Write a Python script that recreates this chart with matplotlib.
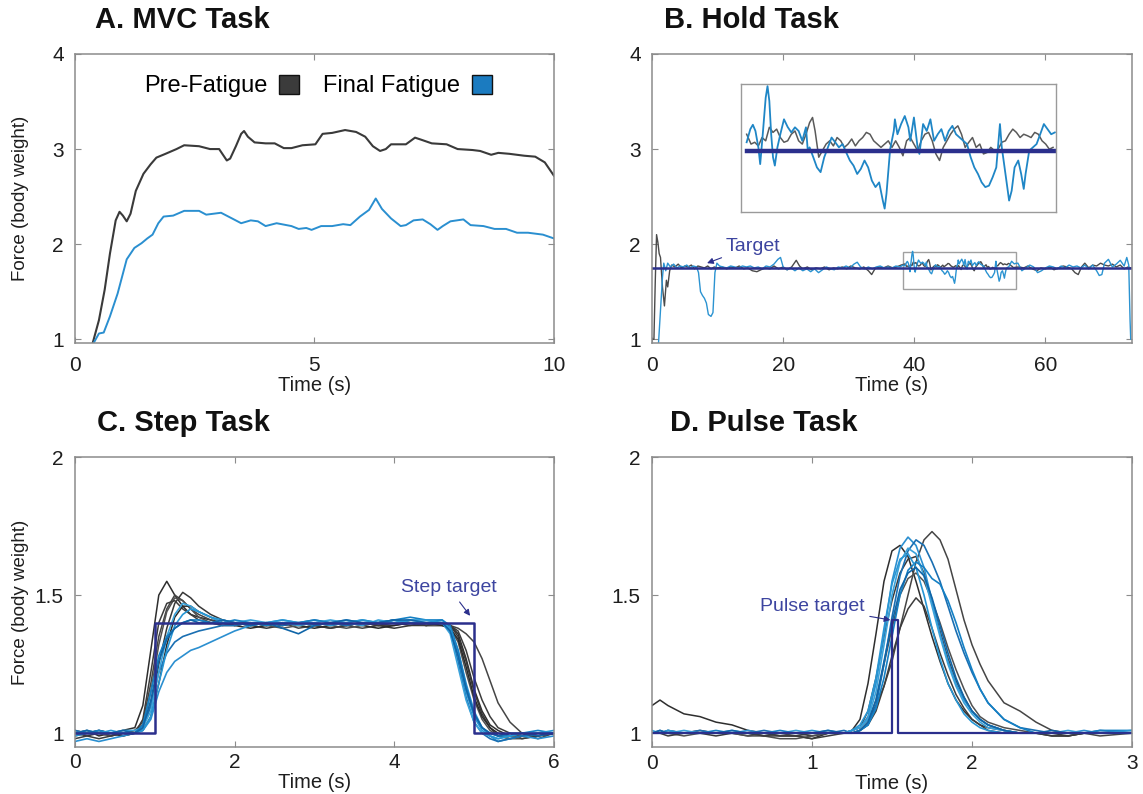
import matplotlib
matplotlib.use("Agg")
import matplotlib.pyplot as plt
from matplotlib.patches import Patch, Rectangle

plt.rcParams['font.family'] = ['Liberation Sans', 'DejaVu Sans']

# ---------------- Panel A: MVC task ----------------
mvc_pre_time = [0.37, 0.50, 0.62, 0.73, 0.85, 0.93, 1.00, 1.08, 1.16, 1.27, 1.43, 1.58, 1.70, 1.89, 2.12,
                2.28, 2.59, 2.82, 3.01, 3.09, 3.17, 3.24, 3.36, 3.47, 3.53, 3.61, 3.75, 3.98, 4.17, 4.36,
                4.52, 4.75, 5.02, 5.17, 5.37, 5.64, 5.87, 6.06, 6.22, 6.37, 6.49, 6.60, 6.91, 7.10, 7.22,
                7.45, 7.76, 7.99, 8.30, 8.46, 8.69, 8.84, 9.07, 9.38, 9.61, 9.81, 10.0]
mvc_pre_force = [0.96, 1.20, 1.52, 1.90, 2.25, 2.34, 2.30, 2.24, 2.32, 2.56, 2.74, 2.84, 2.91, 2.95, 3.00,
                 3.04, 3.03, 3.00, 3.00, 2.94, 2.88, 2.90, 3.03, 3.16, 3.19, 3.13, 3.07, 3.06, 3.06, 3.01,
                 3.01, 3.04, 3.05, 3.16, 3.17, 3.20, 3.18, 3.13, 3.03, 2.98, 3.00, 3.05, 3.05, 3.12, 3.10,
                 3.06, 3.05, 3.00, 2.99, 2.98, 2.94, 2.96, 2.95, 2.93, 2.92, 2.86, 2.72]
mvc_fat_time = [0.39, 0.50, 0.60, 0.73, 0.89, 1.08, 1.24, 1.39, 1.51, 1.62, 1.74, 1.85, 2.05, 2.28, 2.59,
                2.74, 3.05, 3.28, 3.47, 3.67, 3.82, 3.98, 4.21, 4.52, 4.67, 4.83, 4.94, 5.14, 5.37, 5.60,
                5.75, 5.95, 6.14, 6.28, 6.41, 6.60, 6.80, 6.91, 7.07, 7.26, 7.42, 7.57, 7.68, 7.84, 8.11,
                8.26, 8.53, 8.76, 9.00, 9.23, 9.46, 9.77, 10.0]
mvc_fat_force = [0.96, 1.06, 1.07, 1.24, 1.48, 1.84, 1.96, 2.01, 2.06, 2.10, 2.22, 2.29, 2.30, 2.35, 2.35,
                 2.31, 2.33, 2.27, 2.22, 2.25, 2.24, 2.19, 2.22, 2.19, 2.16, 2.17, 2.15, 2.19, 2.19, 2.21,
                 2.20, 2.29, 2.36, 2.48, 2.37, 2.27, 2.19, 2.20, 2.25, 2.26, 2.21, 2.15, 2.19, 2.24, 2.26,
                 2.20, 2.19, 2.16, 2.16, 2.12, 2.12, 2.10, 2.06]
mvc_labels = ['Pre-Fatigue', 'Final Fatigue']

# ---------------- Panel B: Hold task ----------------
hold_target_level = 1.745
hold_span = [0.0, 73.0]

hold_black_t_pre = [0.0, 0.3, 0.5, 0.7, 0.9, 1.1, 1.3, 1.6, 1.9, 2.2, 2.4, 2.7, 3.0, 3.5, 4.0, 4.5, 5.0, 5.5,
                    6.0, 6.5, 7.0, 7.5, 8.0, 8.5, 9.0, 9.5, 10.0, 10.7, 11.4, 12.0, 12.7, 13.3, 14.0, 14.6,
                    15.3, 16.0, 16.6, 17.3, 18.0, 18.6, 19.3, 20.0, 20.6, 21.3, 22.0, 22.5, 23.0, 23.7, 24.3,
                    25.0, 25.7, 26.3, 27.0, 27.7, 28.3, 29.0, 29.7, 30.3, 31.0, 31.7, 32.3, 33.0, 33.5, 34.0,
                    34.7, 35.3, 36.0, 36.7, 37.3, 38.0]
hold_black_f_pre = [1.00, 1.00, 1.60, 2.10, 2.02, 1.90, 1.86, 1.55, 1.35, 1.62, 1.55, 1.72, 1.78, 1.76, 1.79,
                    1.75, 1.77, 1.76, 1.78, 1.74, 1.77, 1.76, 1.75, 1.77, 1.74, 1.76, 1.75, 1.76, 1.74, 1.76,
                    1.75, 1.77, 1.74, 1.75, 1.72, 1.71, 1.73, 1.75, 1.74, 1.77, 1.74, 1.76, 1.73, 1.76, 1.83,
                    1.77, 1.74, 1.76, 1.73, 1.75, 1.74, 1.76, 1.73, 1.75, 1.74, 1.76, 1.74, 1.77, 1.75, 1.74,
                    1.76, 1.72, 1.68, 1.74, 1.76, 1.75, 1.77, 1.75, 1.76, 1.78]
hold_black_t_post = [56.0, 56.7, 57.3, 58.0, 58.7, 59.3, 60.0, 60.7, 61.3, 62.0, 62.7, 63.3, 64.0, 64.5, 65.0,
                     65.5, 66.0, 66.6, 67.2, 67.8, 68.4, 69.0, 69.6, 70.2, 70.8, 71.4, 72.0, 72.6, 73.0]
hold_black_f_post = [1.76, 1.75, 1.77, 1.74, 1.72, 1.75, 1.74, 1.76, 1.73, 1.75, 1.77, 1.76, 1.74, 1.70, 1.68,
                     1.76, 1.80, 1.75, 1.78, 1.77, 1.80, 1.78, 1.77, 1.79, 1.76, 1.78, 1.74, 1.76, 1.75]

hold_blue_t_pre = [1.0, 1.3, 1.6, 1.8, 2.1, 2.4, 2.8, 3.3, 3.8, 4.3, 4.8, 5.3, 5.8, 6.3, 6.8, 7.1, 7.4, 7.7,
                   8.0, 8.3, 8.6, 9.0, 9.3, 9.6, 9.9, 10.3, 10.8, 11.4, 12.0, 12.6, 13.2, 13.8, 14.4, 15.0,
                   15.6, 16.2, 16.8, 17.4, 18.0, 18.6, 19.2, 19.6, 20.0, 20.6, 21.2, 21.8, 22.4, 23.0, 23.6,
                   24.2, 24.8, 25.4, 26.0, 26.6, 27.2, 27.8, 28.4, 29.0, 29.6, 30.2, 30.8, 31.3, 31.8, 32.4,
                   33.0, 33.6, 34.2, 34.8, 35.4, 36.0, 36.6, 37.2, 37.8, 38.3]
hold_blue_f_pre = [0.96, 1.30, 1.65, 1.80, 1.72, 1.80, 1.76, 1.79, 1.75, 1.77, 1.76, 1.78, 1.75, 1.77, 1.76,
                   1.70, 1.50, 1.46, 1.43, 1.38, 1.26, 1.24, 1.28, 1.70, 1.80, 1.77, 1.76, 1.75, 1.77, 1.76,
                   1.75, 1.77, 1.76, 1.77, 1.75, 1.76, 1.74, 1.77, 1.76, 1.79, 1.84, 1.86, 1.76, 1.73, 1.75,
                   1.72, 1.75, 1.72, 1.74, 1.71, 1.74, 1.70, 1.73, 1.76, 1.74, 1.73, 1.76, 1.75, 1.77, 1.75,
                   1.79, 1.81, 1.76, 1.74, 1.76, 1.74, 1.76, 1.77, 1.75, 1.76, 1.75, 1.77, 1.76, 1.78]
hold_blue_t_post = [55.8, 56.4, 57.0, 57.6, 58.2, 58.8, 59.4, 60.0, 60.6, 61.2, 61.8, 62.4, 63.0, 63.6, 64.2,
                    64.8, 65.4, 66.0, 66.6, 67.2, 67.8, 68.2, 68.6, 69.0, 69.6, 70.2, 70.8, 71.4, 72.0, 72.4,
                    72.7, 72.9, 73.0]
hold_blue_f_post = [1.80, 1.72, 1.75, 1.78, 1.76, 1.70, 1.72, 1.75, 1.77, 1.76, 1.74, 1.77, 1.75, 1.78, 1.76,
                    1.77, 1.75, 1.78, 1.74, 1.78, 1.72, 1.67, 1.68, 1.80, 1.84, 1.76, 1.79, 1.83, 1.77, 1.86,
                    1.78, 1.20, 1.00]

# zoomed window (shown in the inset)
inset_blue_t = [38.60, 38.80, 38.94, 39.08, 39.24, 39.34, 39.48, 39.64, 39.74, 39.84, 39.94, 40.04, 40.14,
                40.28, 40.44, 40.64, 40.84, 41.04, 41.24, 41.44, 41.64, 41.84, 41.94, 42.04, 42.24, 42.44,
                42.64, 42.84, 43.04, 43.24, 43.44, 43.64, 43.84, 44.04, 44.24, 44.44, 44.64, 44.84, 45.04,
                45.24, 45.44, 45.64, 45.84, 46.04, 46.14, 46.24, 46.44, 46.64, 46.70, 46.84, 47.04, 47.24,
                47.44, 47.54, 47.74, 47.94, 48.04, 48.24, 48.44, 48.64, 48.84, 49.04, 49.24, 49.44, 49.64,
                49.84, 50.04, 50.24, 50.44, 50.64, 50.84, 51.04, 51.24, 51.44, 51.64, 51.84, 52.04, 52.24,
                52.44, 52.54, 52.64, 52.84, 52.94, 53.08, 53.24, 53.44, 53.60, 53.74, 53.84, 54.04, 54.24,
                54.44, 54.64, 54.84, 55.04, 55.24, 55.44]
inset_blue_f = [1.770, 1.806, 1.818, 1.801, 1.756, 1.710, 1.792, 1.892, 1.924, 1.883, 1.792, 1.729, 1.706,
                1.756, 1.792, 1.833, 1.812, 1.797, 1.811, 1.801, 1.774, 1.811, 1.747, 1.756, 1.729, 1.701,
                1.688, 1.729, 1.756, 1.783, 1.770, 1.756, 1.765, 1.742, 1.720, 1.706, 1.683, 1.697, 1.720,
                1.701, 1.665, 1.647, 1.660, 1.610, 1.588, 1.629, 1.751, 1.801, 1.833, 1.792, 1.820, 1.842,
                1.811, 1.774, 1.838, 1.756, 1.738, 1.820, 1.801, 1.833, 1.774, 1.792, 1.806, 1.774, 1.801,
                1.815, 1.792, 1.783, 1.774, 1.765, 1.729, 1.701, 1.683, 1.660, 1.647, 1.651, 1.674, 1.701,
                1.820, 1.756, 1.720, 1.647, 1.610, 1.637, 1.701, 1.720, 1.683, 1.642, 1.683, 1.747, 1.756,
                1.765, 1.792, 1.820, 1.806, 1.792, 1.797]
inset_black_t = [38.60, 38.84, 39.04, 39.24, 39.44, 39.64, 39.84, 40.04, 40.24, 40.44, 40.64, 40.84, 41.04,
                 41.24, 41.44, 41.64, 41.84, 42.04, 42.20, 42.34, 42.54, 42.74, 42.94, 43.14, 43.34, 43.54,
                 43.74, 43.94, 44.14, 44.34, 44.54, 44.74, 44.94, 45.14, 45.34, 45.54, 45.74, 45.94, 46.14,
                 46.34, 46.54, 46.74, 46.94, 47.14, 47.34, 47.54, 47.74, 47.94, 48.14, 48.34, 48.54, 48.74,
                 48.94, 49.14, 49.34, 49.54, 49.74, 49.94, 50.14, 50.34, 50.54, 50.74, 50.94, 51.14, 51.34,
                 51.54, 51.74, 51.94, 52.14, 52.34, 52.54, 52.74, 52.94, 53.14, 53.34, 53.54, 53.74, 53.94,
                 54.14, 54.34, 54.54, 54.74, 54.94, 55.14, 55.34]
inset_black_f = [1.792, 1.765, 1.770, 1.760, 1.783, 1.774, 1.811, 1.797, 1.806, 1.783, 1.770, 1.774, 1.792,
                 1.801, 1.774, 1.765, 1.792, 1.824, 1.838, 1.801, 1.729, 1.747, 1.765, 1.774, 1.760, 1.783,
                 1.774, 1.756, 1.765, 1.779, 1.760, 1.774, 1.783, 1.797, 1.792, 1.774, 1.765, 1.756, 1.765,
                 1.774, 1.756, 1.774, 1.756, 1.733, 1.774, 1.783, 1.765, 1.747, 1.774, 1.792, 1.797, 1.774,
                 1.738, 1.720, 1.756, 1.774, 1.792, 1.806, 1.815, 1.792, 1.756, 1.770, 1.783, 1.756, 1.765,
                 1.738, 1.742, 1.756, 1.747, 1.751, 1.770, 1.774, 1.792, 1.806, 1.797, 1.783, 1.792, 1.788,
                 1.783, 1.797, 1.792, 1.774, 1.765, 1.751, 1.756]
inset_window_t = [38.3, 55.5]
inset_window_f = [1.53, 1.92]
inset_view_f = [1.58, 1.93]
inset_place_t = [13.6, 61.6]
inset_place_f = [2.343, 3.685]

# ---------------- Panel C: Step task ----------------
step_target_t = [0.0, 1.0, 1.0, 5.0, 5.0, 6.0]
step_target_f = [1.0, 1.0, 1.4, 1.4, 1.0, 1.0]
step_time = [0.0, 0.15, 0.3, 0.45, 0.6, 0.75, 0.85, 0.95, 1.05, 1.15, 1.25, 1.35, 1.45, 1.55, 1.7, 1.85,
             2.0, 2.2, 2.4, 2.6, 2.8, 3.0, 3.2, 3.4, 3.6, 3.8, 4.0, 4.2, 4.4, 4.6, 4.7, 4.8, 4.9, 5.0, 5.1,
             5.2, 5.3, 5.45, 5.6, 5.8, 6.0]
step_pre = [
    [1.00, 1.01, 0.99, 1.00, 1.01, 1.02, 1.10, 1.30, 1.50, 1.55, 1.50, 1.46, 1.43, 1.42, 1.41, 1.40, 1.40,
     1.39, 1.40, 1.39, 1.40, 1.39, 1.40, 1.39, 1.40, 1.39, 1.40, 1.39, 1.40, 1.40, 1.39, 1.36, 1.27, 1.16,
     1.08, 1.03, 1.01, 0.99, 0.99, 1.00, 1.00],
    [0.99, 1.00, 1.00, 0.99, 1.00, 1.01, 1.04, 1.18, 1.35, 1.45, 1.50, 1.48, 1.45, 1.43, 1.41, 1.40, 1.39,
     1.40, 1.39, 1.40, 1.38, 1.39, 1.40, 1.39, 1.38, 1.39, 1.39, 1.40, 1.39, 1.39, 1.39, 1.38, 1.36, 1.33,
     1.27, 1.19, 1.11, 1.04, 1.00, 0.98, 1.00],
    [1.00, 0.99, 1.00, 1.00, 0.99, 1.00, 1.02, 1.10, 1.25, 1.38, 1.47, 1.51, 1.49, 1.46, 1.43, 1.41, 1.40,
     1.39, 1.38, 1.39, 1.40, 1.39, 1.38, 1.39, 1.40, 1.39, 1.38, 1.39, 1.39, 1.40, 1.39, 1.35, 1.26, 1.15,
     1.07, 1.02, 0.99, 0.98, 0.99, 1.00, 1.00],
    [1.01, 1.00, 1.00, 0.99, 1.00, 1.01, 1.03, 1.15, 1.32, 1.44, 1.49, 1.48, 1.45, 1.42, 1.40, 1.39, 1.40,
     1.40, 1.39, 1.38, 1.39, 1.40, 1.39, 1.38, 1.39, 1.40, 1.41, 1.40, 1.39, 1.39, 1.38, 1.33, 1.22, 1.12,
     1.05, 1.01, 0.99, 0.98, 0.98, 0.99, 1.00],
    [0.98, 0.99, 0.98, 0.99, 1.00, 1.00, 1.05, 1.22, 1.40, 1.47, 1.48, 1.45, 1.43, 1.41, 1.40, 1.39, 1.39,
     1.40, 1.39, 1.40, 1.40, 1.39, 1.38, 1.39, 1.40, 1.39, 1.40, 1.40, 1.39, 1.40, 1.39, 1.37, 1.30, 1.20,
     1.12, 1.06, 1.02, 1.00, 0.98, 0.99, 1.00],
    [1.00, 1.00, 1.01, 1.00, 0.99, 1.00, 1.01, 1.06, 1.18, 1.32, 1.42, 1.46, 1.46, 1.44, 1.42, 1.40, 1.39,
     1.38, 1.39, 1.40, 1.39, 1.38, 1.39, 1.40, 1.39, 1.38, 1.39, 1.40, 1.40, 1.39, 1.38, 1.34, 1.24, 1.13,
     1.06, 1.02, 1.00, 0.99, 1.00, 0.99, 1.00],
]
step_fat = [
    [0.97, 0.98, 0.97, 0.98, 0.99, 1.00, 1.01, 1.05, 1.15, 1.22, 1.26, 1.28, 1.30, 1.31, 1.33, 1.35, 1.37,
     1.39, 1.40, 1.41, 1.40, 1.39, 1.40, 1.41, 1.40, 1.40, 1.41, 1.40, 1.40, 1.41, 1.38, 1.30, 1.18, 1.08,
     1.02, 0.99, 0.97, 0.98, 0.99, 0.98, 0.99],
    [1.01, 1.00, 1.01, 1.00, 1.00, 1.00, 1.02, 1.10, 1.22, 1.29, 1.33, 1.35, 1.36, 1.37, 1.38, 1.39, 1.39,
     1.40, 1.40, 1.39, 1.40, 1.41, 1.40, 1.39, 1.40, 1.40, 1.41, 1.40, 1.40, 1.40, 1.37, 1.26, 1.13, 1.04,
     1.00, 0.98, 0.97, 0.98, 0.99, 1.00, 1.00],
    [1.00, 1.01, 1.00, 1.00, 1.01, 1.01, 1.02, 1.08, 1.22, 1.35, 1.43, 1.47, 1.46, 1.44, 1.42, 1.40, 1.40,
     1.41, 1.40, 1.40, 1.39, 1.40, 1.41, 1.40, 1.39, 1.41, 1.40, 1.41, 1.40, 1.40, 1.36, 1.24, 1.12, 1.04,
     1.00, 0.99, 0.98, 0.99, 1.00, 1.00, 1.00],
    [1.00, 1.00, 1.01, 1.00, 1.00, 1.00, 1.03, 1.15, 1.28, 1.35, 1.38, 1.40, 1.41, 1.41, 1.40, 1.40, 1.41,
     1.40, 1.39, 1.40, 1.40, 1.41, 1.40, 1.40, 1.41, 1.40, 1.41, 1.42, 1.41, 1.41, 1.39, 1.30, 1.17, 1.07,
     1.02, 1.00, 0.99, 0.99, 1.00, 1.01, 1.00],
    [0.99, 1.00, 1.00, 1.01, 1.00, 1.00, 1.01, 1.06, 1.18, 1.30, 1.39, 1.43, 1.45, 1.44, 1.42, 1.41, 1.40,
     1.39, 1.40, 1.41, 1.40, 1.40, 1.39, 1.40, 1.41, 1.40, 1.40, 1.41, 1.41, 1.40, 1.38, 1.28, 1.15, 1.06,
     1.01, 0.99, 0.98, 0.99, 1.00, 1.00, 1.01],
    [1.00, 1.01, 1.00, 1.00, 1.01, 1.00, 1.02, 1.12, 1.26, 1.34, 1.38, 1.40, 1.41, 1.40, 1.40, 1.41, 1.40,
     1.39, 1.40, 1.38, 1.36, 1.39, 1.40, 1.41, 1.40, 1.40, 1.41, 1.41, 1.40, 1.40, 1.37, 1.28, 1.16, 1.07,
     1.02, 1.00, 0.99, 1.00, 1.00, 0.99, 1.00],
]

# ---------------- Panel D: Pulse task ----------------
pulse_target_t = [0.0, 1.50, 1.50, 1.54, 1.54, 3.0]
pulse_target_f = [1.0, 1.0, 1.41, 1.41, 1.0, 1.0]
pulse_time = [0.0, 0.05, 0.1, 0.2, 0.3, 0.4, 0.5, 0.6, 0.7, 0.8, 0.9, 1.0, 1.1, 1.2, 1.25, 1.3, 1.35, 1.4,
              1.45, 1.5, 1.55, 1.6, 1.65, 1.7, 1.75, 1.8, 1.85, 1.9, 1.95, 2.0, 2.05, 2.1, 2.2, 2.3, 2.4,
              2.5, 2.6, 2.7, 2.8, 3.0]
pulse_pre = [
    [1.10, 1.12, 1.10, 1.07, 1.06, 1.04, 1.03, 1.01, 1.00, 0.99, 0.99, 0.98, 1.00, 1.00, 1.01, 1.05, 1.18,
     1.36, 1.55, 1.66, 1.68, 1.64, 1.55, 1.45, 1.35, 1.26, 1.18, 1.12, 1.08, 1.05, 1.03, 1.02, 1.01, 1.00,
     1.00, 0.99, 0.99, 1.00, 1.00, 1.00],
    [1.00, 1.00, 1.00, 1.00, 1.01, 1.00, 1.00, 0.99, 1.00, 1.00, 0.99, 1.00, 1.00, 1.00, 1.01, 1.02, 1.05,
     1.10, 1.17, 1.26, 1.38, 1.50, 1.62, 1.70, 1.73, 1.70, 1.63, 1.52, 1.41, 1.32, 1.25, 1.19, 1.11, 1.08,
     1.04, 1.01, 1.00, 1.00, 0.99, 1.00],
    [1.00, 1.00, 1.01, 1.00, 1.00, 0.99, 1.00, 1.00, 0.99, 1.00, 1.00, 0.99, 1.00, 1.00, 1.01, 1.02, 1.08,
     1.20, 1.35, 1.48, 1.58, 1.63, 1.64, 1.58, 1.48, 1.37, 1.27, 1.19, 1.13, 1.08, 1.05, 1.03, 1.01, 1.00,
     1.00, 1.00, 0.99, 1.00, 1.00, 1.00],
    [1.00, 1.00, 1.00, 0.99, 1.00, 1.00, 1.00, 0.99, 0.99, 0.98, 0.98, 0.99, 1.00, 1.00, 1.00, 1.01, 1.04,
     1.12, 1.25, 1.38, 1.50, 1.56, 1.58, 1.55, 1.48, 1.40, 1.31, 1.23, 1.16, 1.10, 1.06, 1.04, 1.02, 1.01,
     1.00, 1.00, 1.00, 1.00, 1.00, 1.00],
    [1.00, 1.00, 0.99, 1.00, 1.00, 1.00, 1.00, 1.00, 0.99, 0.99, 0.99, 0.98, 0.99, 1.00, 1.00, 1.01, 1.03,
     1.08, 1.17, 1.28, 1.38, 1.45, 1.49, 1.46, 1.38, 1.29, 1.21, 1.14, 1.09, 1.05, 1.03, 1.01, 1.00, 1.00,
     1.00, 0.99, 0.99, 1.00, 1.00, 1.00],
]
pulse_fat = [
    [1.00, 1.00, 1.01, 1.00, 1.00, 1.00, 1.00, 1.01, 1.00, 1.00, 1.00, 1.00, 1.01, 1.00, 1.01, 1.02, 1.06,
     1.18, 1.36, 1.55, 1.67, 1.71, 1.68, 1.60, 1.48, 1.36, 1.26, 1.18, 1.12, 1.08, 1.05, 1.03, 1.01, 1.00,
     1.00, 1.00, 1.00, 1.01, 1.00, 1.00],
    [1.00, 1.01, 1.00, 1.00, 1.01, 1.00, 1.00, 1.00, 1.01, 1.00, 1.00, 1.00, 1.00, 1.01, 1.00, 1.01, 1.03,
     1.10, 1.25, 1.42, 1.57, 1.66, 1.70, 1.68, 1.62, 1.55, 1.46, 1.37, 1.29, 1.22, 1.16, 1.11, 1.05, 1.02,
     1.01, 1.00, 1.00, 1.00, 1.01, 1.00],
    [1.01, 1.00, 1.00, 1.01, 1.00, 1.00, 1.01, 1.00, 1.00, 1.00, 1.01, 1.00, 1.00, 1.00, 1.01, 1.02, 1.05,
     1.15, 1.32, 1.50, 1.62, 1.67, 1.65, 1.57, 1.46, 1.35, 1.25, 1.17, 1.11, 1.07, 1.04, 1.02, 1.01, 1.00,
     1.00, 1.00, 1.01, 1.00, 1.00, 1.00],
    [1.00, 1.00, 1.00, 1.00, 1.00, 1.01, 1.00, 1.00, 1.00, 1.01, 1.00, 1.00, 1.00, 1.00, 1.00, 1.01, 1.03,
     1.09, 1.20, 1.35, 1.50, 1.59, 1.62, 1.60, 1.56, 1.54, 1.48, 1.40, 1.31, 1.23, 1.16, 1.11, 1.05, 1.02,
     1.00, 1.00, 1.00, 1.00, 1.01, 1.01],
    [1.00, 1.00, 1.01, 1.00, 1.00, 1.00, 1.00, 1.00, 1.00, 1.00, 1.00, 1.01, 1.00, 1.00, 1.01, 1.03, 1.08,
     1.20, 1.38, 1.54, 1.63, 1.65, 1.60, 1.50, 1.38, 1.27, 1.18, 1.12, 1.07, 1.04, 1.02, 1.01, 1.00, 1.00,
     1.00, 1.00, 1.00, 1.00, 1.00, 1.01],
    [1.00, 1.01, 1.00, 1.00, 1.00, 1.00, 1.01, 1.00, 1.00, 1.00, 1.00, 1.00, 1.01, 1.00, 1.00, 1.01, 1.04,
     1.12, 1.26, 1.40, 1.52, 1.58, 1.60, 1.57, 1.49, 1.39, 1.29, 1.20, 1.13, 1.08, 1.05, 1.03, 1.01, 1.00,
     1.00, 1.01, 1.00, 1.00, 1.00, 1.00],
]

panel_titles = ['A. MVC Task', 'B. Hold Task', 'C. Step Task', 'D. Pulse Task']
ylabel_text = 'Force (body weight)'
xlabel_text = 'Time (s)'
mvc_xticks = [0, 5, 10]
hold_xticks = [0, 20, 40, 60]
big_yticks = [1, 2, 3, 4]
step_xticks = [0, 2, 4, 6]
pulse_xticks = [0, 1, 2, 3]
small_yticks = [1, 1.5, 2]
small_yticklabels = ['1', '1.5', '2']

# ---------------- styling ----------------
DARK = '#3a3a3a'
BLUE = '#2a8fd0'
NAVY = '#2b2f8c'
NAVY_TXT = '#3d45a0'
FRAME = '#8c8c8c'
pre_colors = ['#2e2e2e', '#454545', '#383838', '#505050', '#3c3c3c', '#2a2a2a']
fat_colors = ['#2b8fd0', '#1a6fb2', '#3aa2da', '#1580c4', '#2796d4', '#0f65a8']

fig = plt.figure(figsize=(11.43, 7.94), dpi=100)
axA = fig.add_axes([0.0656, 0.568, 0.419, 0.364])
axB = fig.add_axes([0.5704, 0.568, 0.420, 0.364])
axC = fig.add_axes([0.0656, 0.0592, 0.419, 0.3652])
axD = fig.add_axes([0.5704, 0.0592, 0.420, 0.3652])


def style(ax, xpad):
    for s in ax.spines.values():
        s.set_color(FRAME)
        s.set_linewidth(1.1)
    ax.tick_params(direction='in', length=4, width=0.8, colors=FRAME, labelcolor='#1e1e1e',
                   labelsize=15, top=True, right=True)
    ax.tick_params(axis='y', pad=8)
    ax.tick_params(axis='x', pad=xpad)
    ax.set_xlabel(xlabel_text, fontsize=14.5, color='#1e1e1e', labelpad=1)


# Panel A
axA.plot(mvc_pre_time, mvc_pre_force, color=DARK, lw=1.5)
axA.plot(mvc_fat_time, mvc_fat_force, color=BLUE, lw=1.4)
axA.set_xlim(0, 10)
axA.set_ylim(0.96, 4)
axA.set_xticks(mvc_xticks)
axA.set_yticks(big_yticks)
style(axA, 9)
axA.set_ylabel(ylabel_text, fontsize=13.5, color='#1e1e1e')
axA.yaxis.set_label_coords(-0.095, 0.5)
handles = [Patch(facecolor='#3b3b3b', edgecolor='#111111', lw=1.0),
           Patch(facecolor='#1b7bc0', edgecolor='#111111', lw=1.0)]
axA.legend(handles, mvc_labels, loc='center', bbox_to_anchor=(0.507, 0.889), ncol=2, frameon=False,
           markerfirst=False, fontsize=17, handlelength=0.85, handleheight=0.85, columnspacing=1.0,
           handletextpad=0.5, borderaxespad=0)

# Panel B
axB.plot(hold_black_t_pre + inset_black_t + hold_black_t_post,
         hold_black_f_pre + inset_black_f + hold_black_f_post, color='#4a4a4a', lw=1.0)
axB.plot(hold_blue_t_pre + inset_blue_t + hold_blue_t_post,
         hold_blue_f_pre + inset_blue_f + hold_blue_f_post, color='#2b93d1', lw=1.0)
axB.plot(hold_span, [hold_target_level, hold_target_level], color=NAVY, lw=1.8)
axB.set_xlim(0, 73.2)
axB.set_ylim(0.96, 4)
axB.set_xticks(hold_xticks)
axB.set_yticks(big_yticks)
style(axB, 9)
axB.add_patch(Rectangle((inset_window_t[0], inset_window_f[0]), inset_window_t[1] - inset_window_t[0],
                        inset_window_f[1] - inset_window_f[0], fill=False, edgecolor='#a0a0a0', lw=1.0))
axB.annotate('Target', xy=(8.4, 1.80), xytext=(15.4, 1.98), ha='center', va='center', fontsize=14,
             color=NAVY_TXT,
             arrowprops=dict(arrowstyle='-|>', color=NAVY, lw=0.8, mutation_scale=9, shrinkA=1, shrinkB=0))
axins = axB.inset_axes([inset_place_t[0], inset_place_f[0], inset_place_t[1] - inset_place_t[0],
                        inset_place_f[1] - inset_place_f[0]], transform=axB.transData)
axins.plot(inset_black_t, inset_black_f, color='#5a5a5a', lw=1.1)
axins.plot(inset_blue_t, inset_blue_f, color='#1f86c6', lw=1.3)
axins.plot([inset_blue_t[0], inset_blue_t[-1]], [hold_target_level, hold_target_level], color=NAVY, lw=3.2)
axins.set_xlim(inset_window_t)
axins.set_ylim(inset_view_f)
axins.set_xticks([])
axins.set_yticks([])
for s in axins.spines.values():
    s.set_color('#9a9a9a')
    s.set_linewidth(1.0)

# Panel C
for vals, c in zip(step_pre, pre_colors):
    axC.plot(step_time, vals, color=c, lw=1.1)
for vals, c in zip(step_fat, fat_colors):
    axC.plot(step_time, vals, color=c, lw=1.2)
axC.plot(step_target_t, step_target_f, color=NAVY, lw=1.8)
axC.set_xlim(0, 6)
axC.set_ylim(0.95, 2)
axC.set_xticks(step_xticks)
axC.set_yticks(small_yticks)
axC.set_yticklabels(small_yticklabels)
style(axC, 4)
axC.set_ylabel(ylabel_text, fontsize=13.5, color='#1e1e1e')
axC.yaxis.set_label_coords(-0.095, 0.5)
axC.annotate('Step target', xy=(4.95, 1.425), xytext=(4.68, 1.528), ha='center', va='center', fontsize=14,
             color=NAVY_TXT,
             arrowprops=dict(arrowstyle='-|>', color=NAVY, lw=0.8, mutation_scale=9, shrinkA=3, shrinkB=0))

# Panel D
for vals, c in zip(pulse_pre, pre_colors):
    axD.plot(pulse_time, vals, color=c, lw=1.1)
for vals, c in zip(pulse_fat, fat_colors):
    axD.plot(pulse_time, vals, color=c, lw=1.2)
axD.plot(pulse_target_t, pulse_target_f, color=NAVY, lw=1.6)
axD.set_xlim(0, 3)
axD.set_ylim(0.95, 2)
axD.set_xticks(pulse_xticks)
axD.set_yticks(small_yticks)
axD.set_yticklabels(small_yticklabels)
style(axD, 5)
axD.annotate('Pulse target', xy=(1.49, 1.41), xytext=(1.0, 1.459), ha='center', va='center', fontsize=14,
             color=NAVY_TXT,
             arrowprops=dict(arrowstyle='-|>', color=NAVY, lw=0.8, mutation_scale=9, shrinkA=2, shrinkB=0))

# Titles
title_pos = [(95, 20), (664, 20), (97, 423), (670, 423)]
for (px, py), t in zip(title_pos, panel_titles):
    fig.text(px / 1143, 1 - py / 794, t, fontsize=21, fontweight='bold', ha='left', va='center',
             color='#111111')

fig.savefig('out.png', dpi=100)
